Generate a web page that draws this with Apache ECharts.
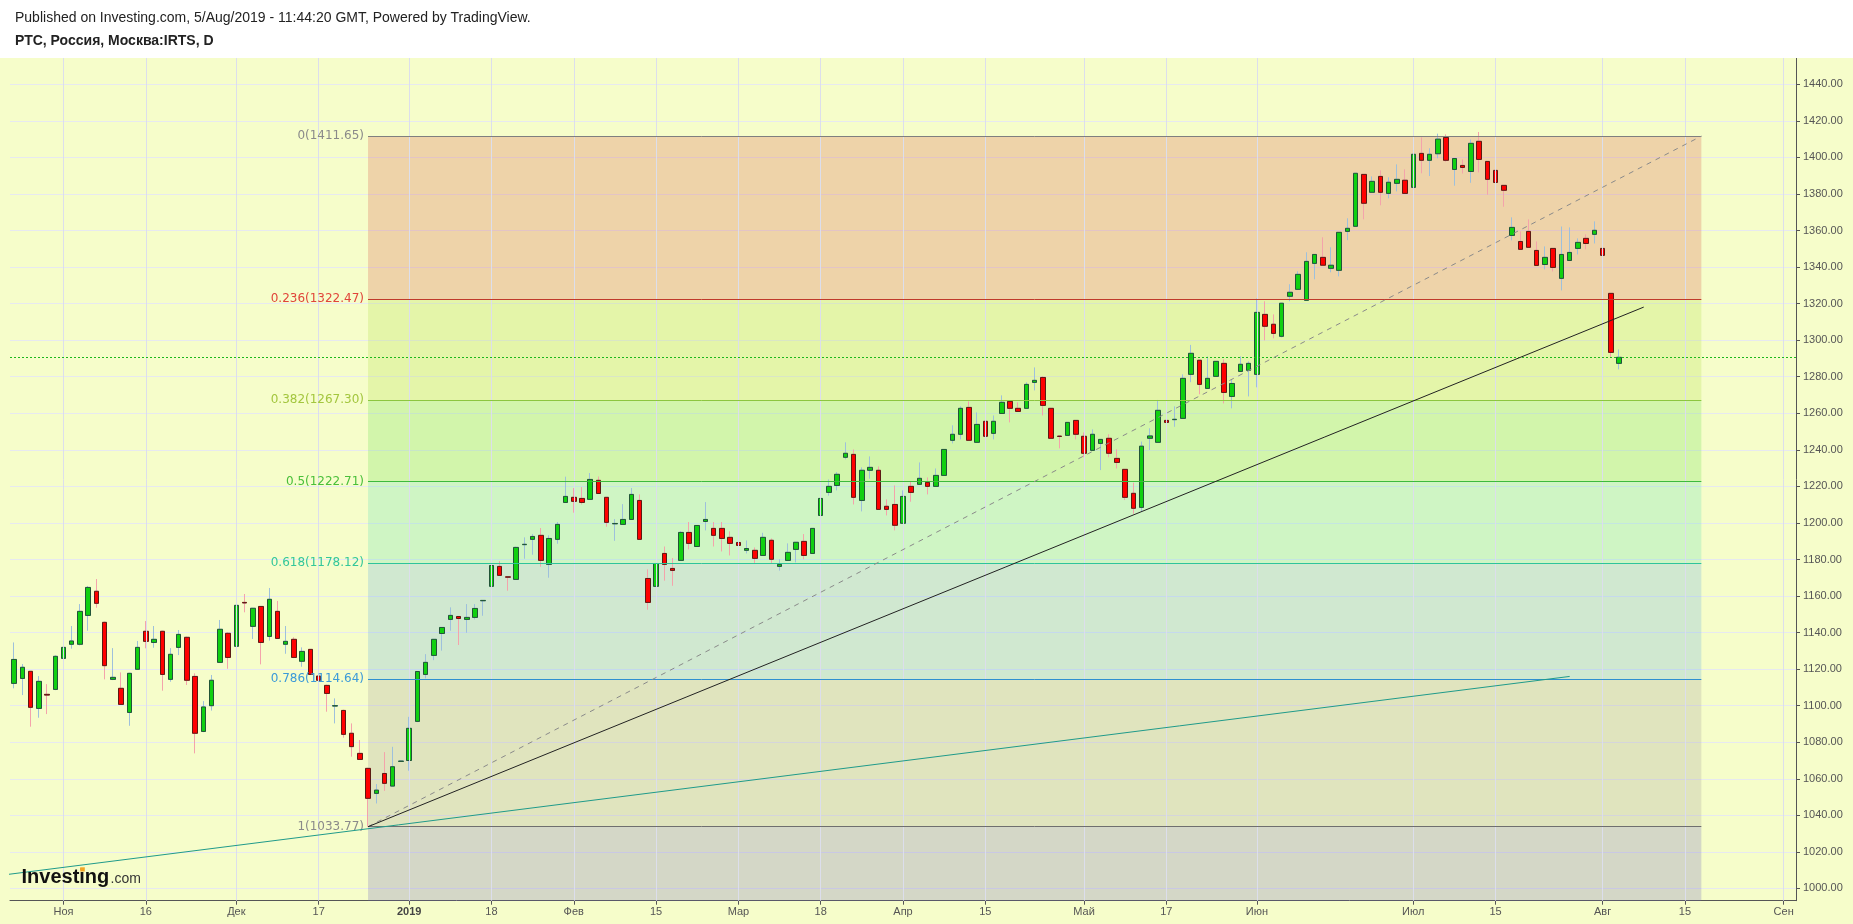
<!DOCTYPE html>
<html>
<head>
<meta charset="utf-8">
<script src="https://cdn.jsdelivr.net/npm/echarts@6/dist/echarts.min.js"></script>
<style>
html,body{margin:0;padding:0;background:#fff;}
#c{width:1853px;height:924px;}
</style>
</head>
<body>
<div id="c"></div>
<script>
// ---- DATA (daily candles, RTS index, Oct 2018 - Aug 5 2019) ----
const opens = [
1112.2,1114.9,1118.8,1098.5,1106.2,1108.9,1125.9,1133.6,1133.6,1149.4,
1162.6,1145.6,1114.4,1109.5,1096.3,1119.9,1140.7,1134.6,1140.7,1114.4,
1131.9,1137.4,1116.0,1085.9,1100.0,1123.7,1139.6,1132.5,1156.5,1143.4,
1154.3,1137.9,1151.6,1133.6,1136.3,1124.3,1130.8,1116.2,1111.1,1099.8,
1097.4,1084.9,1073.9,1065.7,1052.0,1062.9,1056.0,1069.5,1070.0,1091.4,
1117.1,1127.5,1139.5,1147.2,1148.8,1147.2,1148.3,1157.4,1165.3,1176.2,
1170.5,1169.1,1188.1,1191.0,1193.2,1177.3,1191.0,1211.2,1214.0,1213.4,
1212.9,1223.3,1214.0,1199.5,1199.2,1201.9,1212.3,1169.6,1165.3,1183.3,
1175.1,1179.5,1194.8,1187.1,1200.8,1197.0,1197.0,1192.1,1189.3,1185.0,
1185.0,1182.2,1190.5,1176.2,1179.5,1185.5,1189.9,1183.3,1204.1,1216.7,
1220.5,1235.9,1237.5,1212.3,1228.8,1228.8,1209.1,1210.1,1199.8,1220.0,
1221.1,1222.2,1220.0,1226.0,1245.2,1248.5,1263.2,1244.1,1255.6,1249.0,
1259.9,1266.5,1262.7,1262.7,1276.9,1279.6,1262.7,1247.5,1247.9,1256.1,
1247.4,1239.7,1243.5,1246.3,1235.3,1229.3,1216.2,1208.5,1246.3,1244.1,
1256.1,1256.5,1257.2,1281.3,1289.0,1273.6,1280.2,1287.3,1269.2,1282.9,
1283.5,1281.3,1314.1,1308.7,1302.1,1324.0,1327.8,1321.8,1342.0,1345.3,
1339.3,1338.2,1359.5,1362.3,1390.7,1380.9,1389.6,1380.3,1385.8,1387.5,
1383.6,1402.2,1398.4,1402.0,1410.9,1393.4,1395.6,1392.3,1408.8,1397.8,
1392.9,1384.7,1357.3,1354.0,1359.5,1349.1,1341.4,1350.2,1333.8,1343.6,
1350.2,1355.7,1357.9,1350.2,1325.6,1287.3
];
const closes = [
1125.3,1121.0,1099.1,1113.3,1105.8,1127.0,1131.9,1135.4,1151.6,1164.7,
1156.0,1121.9,1115.5,1100.7,1117.7,1131.9,1135.2,1136.3,1117.1,1128.1,
1139.0,1113.9,1084.9,1099.3,1113.9,1141.8,1126.4,1154.9,1156.2,1153.3,
1134.6,1158.2,1136.8,1135.2,1126.4,1129.7,1117.1,1113.9,1106.7,1100.0,
1084.3,1077.6,1070.6,1049.3,1053.8,1057.5,1066.6,1069.7,1087.6,1118.7,
1123.7,1136.3,1142.8,1149.4,1147.7,1148.3,1153.2,1157.6,1176.7,1171.3,
1170.3,1186.6,1188.3,1192.6,1179.5,1191.5,1199.2,1214.5,1211.8,1211.2,
1223.8,1216.1,1200.3,1199.7,1201.9,1215.6,1191.0,1156.5,1177.8,1177.3,
1174.0,1194.8,1188.8,1198.6,1201.9,1193.2,1191.5,1188.8,1187.7,1186.0,
1180.6,1192.1,1180.1,1177.3,1183.9,1189.4,1182.2,1197.0,1213.4,1220.0,
1226.6,1238.1,1214.0,1228.8,1230.4,1207.4,1207.4,1198.7,1214.5,1216.7,
1224.4,1220.0,1226.0,1240.2,1248.5,1262.7,1245.2,1253.9,1247.4,1255.6,
1266.0,1262.7,1261.0,1275.8,1278.0,1264.3,1246.3,1247.3,1255.0,1248.5,
1238.1,1248.5,1245.7,1238.1,1233.1,1214.0,1208.0,1242.0,1247.6,1261.6,
1255.0,1256.7,1279.1,1292.8,1275.8,1279.1,1288.4,1271.4,1276.3,1286.8,
1287.3,1315.2,1307.6,1303.7,1320.2,1326.2,1336.0,1343.1,1346.9,1341.0,
1341.0,1359.0,1361.2,1391.3,1374.9,1386.9,1380.9,1386.4,1388.0,1380.3,
1401.7,1398.4,1401.7,1410.0,1398.4,1399.4,1394.5,1407.7,1398.9,1388.0,
1386.3,1382.0,1361.7,1349.7,1350.8,1340.9,1345.3,1339.8,1346.9,1348.0,
1353.5,1352.9,1360.1,1346.4,1293.3,1290.6
];
const lows = [
1109.5,1105.8,1088.5,1093.4,1095.4,1108.5,1120.2,1131.2,1133.0,1141.0,
1153.6,1114.4,1114.0,1100.5,1089.0,1119.7,1131.4,1131.7,1108.2,1113.1,
1127.7,1111.3,1073.9,1085.5,1097.3,1123.5,1120.2,1132.3,1151.1,1136.5,
1122.6,1135.6,1136.5,1128.4,1126.0,1121.3,1117.0,1112.6,1096.7,1090.3,
1082.5,1072.1,1070.3,1033.77,1046.5,1053.4,1055.8,1069.3,1064.4,1091.0,
1114.9,1124.9,1130.1,1141.0,1133.2,1139.9,1147.2,1149.2,1164.2,1171.0,
1162.9,1168.8,1180.4,1182.6,1176.0,1170.0,1188.6,1211.0,1205.6,1210.1,
1212.7,1216.0,1197.9,1190.2,1199.0,1201.7,1190.8,1152.5,1165.0,1168.4,
1165.6,1179.3,1185.5,1187.0,1195.9,1187.1,1184.4,1182.2,1185.5,1183.3,
1177.8,1182.0,1177.9,1173.9,1179.3,1178.4,1180.1,1183.1,1202.1,1214.9,
1217.8,1234.8,1210.1,1206.3,1224.2,1207.2,1204.1,1195.9,1199.6,1211.6,
1221.0,1215.6,1219.8,1225.8,1243.5,1245.7,1245.0,1244.0,1243.5,1245.7,
1259.7,1255.0,1260.8,1262.5,1272.5,1258.8,1246.1,1240.8,1247.7,1245.7,
1235.9,1239.5,1228.9,1235.9,1229.8,1212.5,1205.0,1206.0,1239.9,1243.9,
1252.6,1252.6,1257.0,1277.0,1270.4,1273.4,1280.0,1265.4,1262.7,1282.7,
1269.2,1274.2,1299.9,1301.0,1301.5,1321.3,1327.6,1321.6,1333.3,1340.8,
1337.1,1334.9,1354.7,1362.0,1366.1,1380.7,1373.8,1377.6,1381.4,1380.1,
1383.4,1391.3,1389.8,1399.5,1397.6,1384.5,1391.2,1386.1,1391.8,1379.6,
1386.1,1373.0,1354.6,1349.5,1350.6,1340.7,1338.7,1337.6,1327.2,1343.4,
1346.9,1349.7,1352.9,1339.8,1290.6,1284.0
];
const highs = [
1134.6,1122.8,1119.0,1116.2,1111.8,1127.5,1136.5,1143.6,1155.6,1165.5,
1169.3,1146.0,1131.5,1118.2,1118.0,1135.4,1146.3,1143.6,1141.0,1131.5,
1141.4,1137.8,1117.7,1102.5,1116.8,1146.9,1140.1,1163.3,1161.1,1153.5,
1154.5,1164.4,1157.3,1143.6,1137.4,1131.9,1131.0,1127.4,1111.5,1104.0,
1097.8,1090.3,1081.2,1066.0,1057.1,1074.6,1077.5,1070.0,1093.9,1119.0,
1128.2,1136.5,1143.0,1153.8,1149.0,1155.6,1155.6,1157.8,1176.9,1179.1,
1170.7,1187.0,1192.1,1193.9,1197.2,1193.2,1200.5,1225.3,1219.1,1219.6,
1227.3,1225.4,1214.2,1202.1,1210.3,1219.1,1215.6,1174.6,1178.0,1187.1,
1180.8,1195.5,1200.5,1198.8,1211.4,1200.5,1200.5,1195.4,1195.2,1190.4,
1186.6,1194.6,1191.5,1180.1,1188.8,1189.6,1193.9,1197.2,1219.3,1223.8,
1227.8,1244.1,1240.2,1230.4,1236.4,1230.9,1212.9,1220.5,1217.8,1222.7,
1233.1,1224.9,1229.8,1240.4,1253.4,1263.8,1266.5,1260.5,1260.5,1258.8,
1269.8,1266.7,1266.0,1276.9,1285.1,1280.2,1262.9,1247.7,1255.2,1256.3,
1249.5,1251.2,1245.9,1248.5,1240.3,1229.5,1222.0,1244.5,1251.8,1267.3,
1259.4,1263.8,1281.3,1297.4,1289.2,1291.1,1288.6,1289.5,1278.5,1291.1,
1288.4,1322.9,1321.3,1314.1,1320.4,1330.6,1337.7,1348.1,1347.1,1356.3,
1350.8,1359.2,1366.7,1391.5,1390.9,1389.6,1392.9,1389.1,1396.2,1393.5,
1404.5,1411.0,1405.0,1413.0,1412.6,1399.6,1398.9,1409.8,1413.9,1398.0,
1396.7,1384.9,1367.2,1359.5,1366.1,1354.0,1351.3,1350.4,1362.2,1361.7,
1355.7,1357.9,1365.0,1352.9,1325.8,1294.9
];
const slotCount = 217; // trading-day slots on the time axis (incl. future space)
const xTicks = [[6,'Ноя'],[16,'16'],[27,'Дек'],[37,'17'],[48,'2019'],[58,'18'],[68,'Фев'],[78,'15'],
  [88,'Мар'],[98,'18'],[108,'Апр'],[118,'15'],[130,'Май'],[140,'17'],[151,'Июн'],[170,'Июл'],
  [180,'15'],[193,'Авг'],[203,'15'],[215,'Сен']];
const yTicks = [1000,1020,1040,1060,1080,1100,1120,1140,1160,1180,1200,1220,1240,1260,1280,1300,1320,1340,1360,1380,1400,1420,1440];
const fibRatios = ['0','0.236','0.382','0.5','0.618','0.786','1'];
const fibValues = [1411.65,1322.47,1267.30,1222.71,1178.12,1114.64,1033.77];
const fibLineColors = ['#7f7f7f','#c0392b','#8cc63f','#3dba3d','#2ec49a','#2f8fd0','#6f6f6f'];
const fibLabelColors = ['#8a8a8a','#e0453a','#a3c63e','#49bf3a','#33c79a','#3b9ad9','#8a8a8a'];
const fibBandColors = ['rgba(217,88,72,0.25)','rgba(177,224,72,0.25)','rgba(105,224,80,0.25)',
  'rgba(93,224,180,0.25)','rgba(97,172,228,0.25)','rgba(161,156,156,0.25)'];
const fibBelowColor = 'rgba(110,105,190,0.25)';
const fibStart = 43, fibEnd = 205;
const trendDashed = [[43,1033.77],[205,1411.65]];
const trendBlack = [[43,1033.77],[198,1318.1]];
const trendTeal = [[-0.71,1007.7],[189,1116.0]];
const lastPrice = 1290.6;

// ---- BUILD ----
const cats = Array.from({length: slotCount}, (_, i) => String(i));
const tickMap = new Map(xTicks);
const candleData = opens.map((o, i) => [o, closes[i], lows[i], highs[i]]);
const bodyData = opens.map((o, i) => [o, closes[i], Math.min(o, closes[i]), Math.max(o, closes[i])]);
const Y_MIN = 993.29, Y_MAX = 1454.39;

const fibAreas = [];
for (let i = 0; i < fibValues.length - 1; i++) {
  fibAreas.push([{coord:[fibStart, fibValues[i]], itemStyle:{color: fibBandColors[i]}}, {coord:[fibEnd, fibValues[i+1]]}]);
}
fibAreas.push([{coord:[fibStart, fibValues[fibValues.length-1]], itemStyle:{color: fibBelowColor}}, {coord:[fibEnd, Y_MIN]}]);

const fibLines = fibValues.map((v, i) => [
  {coord:[fibStart, v], lineStyle:{color: fibLineColors[i], width:1, type:'solid'},
   label:{show:true, position:'start', distance:4, formatter: fibRatios[i] + '(' + v.toFixed(2) + ')',
          color: fibLabelColors[i], fontFamily:'DejaVu Sans', fontSize:12}},
  {coord:[fibEnd, v]}
]);

const chart = echarts.init(document.getElementById('c'), null, {renderer:'canvas'});
chart.setOption({
  animation: false,
  backgroundColor: '#f6fdca',
  grid: {left: 10, top: 58, width: 1786, height: 842.7, containLabel: false},
  xAxis: [
    {type:'category', data: cats, boundaryGap: true,
     axisLine:{show:true, onZero:false, lineStyle:{color:'#555', width:1}},
     axisTick:{show:true, alignWithLabel:true, length:4, interval:(i)=>tickMap.has(i), lineStyle:{color:'#555'}},
     axisLabel:{show:true, interval:(i)=>tickMap.has(i), color:'#555', fontSize:11, fontFamily:'Liberation Sans', margin:6,
       formatter:(v, i)=>{ const t = tickMap.get(Number(v)); return t === '2019' ? '{b|2019}' : (t || ''); },
       rich:{b:{fontWeight:'bold', color:'#444', fontSize:11, fontFamily:'Liberation Sans'}}},
     splitLine:{show:false}},
    {type:'value', min:-0.5, max: slotCount - 0.5, show:false, axisLine:{onZero:false}}
  ],
  yAxis: {type:'value', position:'right', min: Y_MIN, max: Y_MAX, minInterval:20, maxInterval:20, scale:true,
    axisLine:{show:true, onZero:false, lineStyle:{color:'#555', width:1}},
    axisTick:{show:true, length:4, lineStyle:{color:'#555'}, customValues: yTicks},
    axisLabel:{color:'#555', fontSize:11, fontFamily:'Liberation Sans', margin:7, showMinLabel:true, showMaxLabel:true,
      customValues: yTicks, formatter:(v)=>Number(v).toFixed(2)},
    splitLine:{show:true, lineStyle:{color:'#e7e9f0', width:1}}},
  graphic: [
    {type:'rect', shape:{x:0, y:0, width:1853, height:58}, style:{fill:'#ffffff'}, z:100, silent:true},
    {type:'text', x:15, y:18.5, z:101, style:{text:'Published on Investing.com, 5/Aug/2019 - 11:44:20 GMT, Powered by TradingView.',
      font:'14px "Liberation Sans", Arial, sans-serif', fill:'#222', verticalAlign:'middle'}},
    {type:'text', x:15, y:41, z:101, style:{text:'РТС, Россия, Москва:IRTS, D',
      font:'bold 14px "Liberation Sans", Arial, sans-serif', fill:'#222', verticalAlign:'middle'}},
    {type:'text', x:21.5, y:877, z:50, style:{text:'Investing', font:'bold 20px "Liberation Sans", Arial, sans-serif', fill:'#111', verticalAlign:'middle'}},
    {type:'rect', shape:{x:80.2, y:867.3, width:4.6, height:4.2}, style:{fill:'#f5a623'}, z:51},
    {type:'text', x:110.5, y:879, z:50, style:{text:'.com', font:'14px "Liberation Sans", Arial, sans-serif', fill:'#333', verticalAlign:'middle'}}
  ],
  series: [
    {name:'vgrid', type:'line', xAxisIndex:1, data:[], z:0, silent:true,
     markLine:{silent:true, symbol:['none','none'], label:{show:false},
       lineStyle:{color:'#dcdeec', width:1, type:'solid'},
       data: xTicks.map(t => ({xAxis: t[0]}))}},
    {name:'fib', type:'line', xAxisIndex:1, data:[], z:1, silent:true,
     markArea:{silent:true, data: fibAreas},
     markLine:{silent:true, symbol:['none','none'], data: fibLines}},
    {name:'wicks', type:'candlestick', xAxisIndex:0, data: candleData, barWidth:5, z:3, silent:true,
     itemStyle:{color:'#10d010', color0:'#ff0000', borderColor:'#9ec0dc', borderColor0:'#f4a3ab', borderWidth:1}},
    {name:'bodies', type:'candlestick', xAxisIndex:0, data: bodyData, barWidth:5, z:4, silent:true,
     itemStyle:{color:'#10d010', color0:'#ff0000', borderColor:'#225437', borderColor0:'#5b1a13', borderWidth:1},
     markLine:{silent:true, symbol:['none','none'], label:{show:false},
       lineStyle:{color:'#1cb81c', width:1, type:[2,2]}, data:[{yAxis: lastPrice}]}},
    {name:'fibTrend', type:'line', xAxisIndex:1, data: trendDashed, symbol:'none', z:5, silent:true,
     lineStyle:{color:'#8a8a8a', width:1, type:[5,5]}},
    {name:'support', type:'line', xAxisIndex:1, data: trendBlack, symbol:'none', z:5, silent:true,
     lineStyle:{color:'#222', width:1}},
    {name:'longTrend', type:'line', xAxisIndex:1, data: trendTeal, symbol:'none', z:5, silent:true, clip:true,
     lineStyle:{color:'#1f9a8a', width:1}}
  ]
});
</script>
</body>
</html>
